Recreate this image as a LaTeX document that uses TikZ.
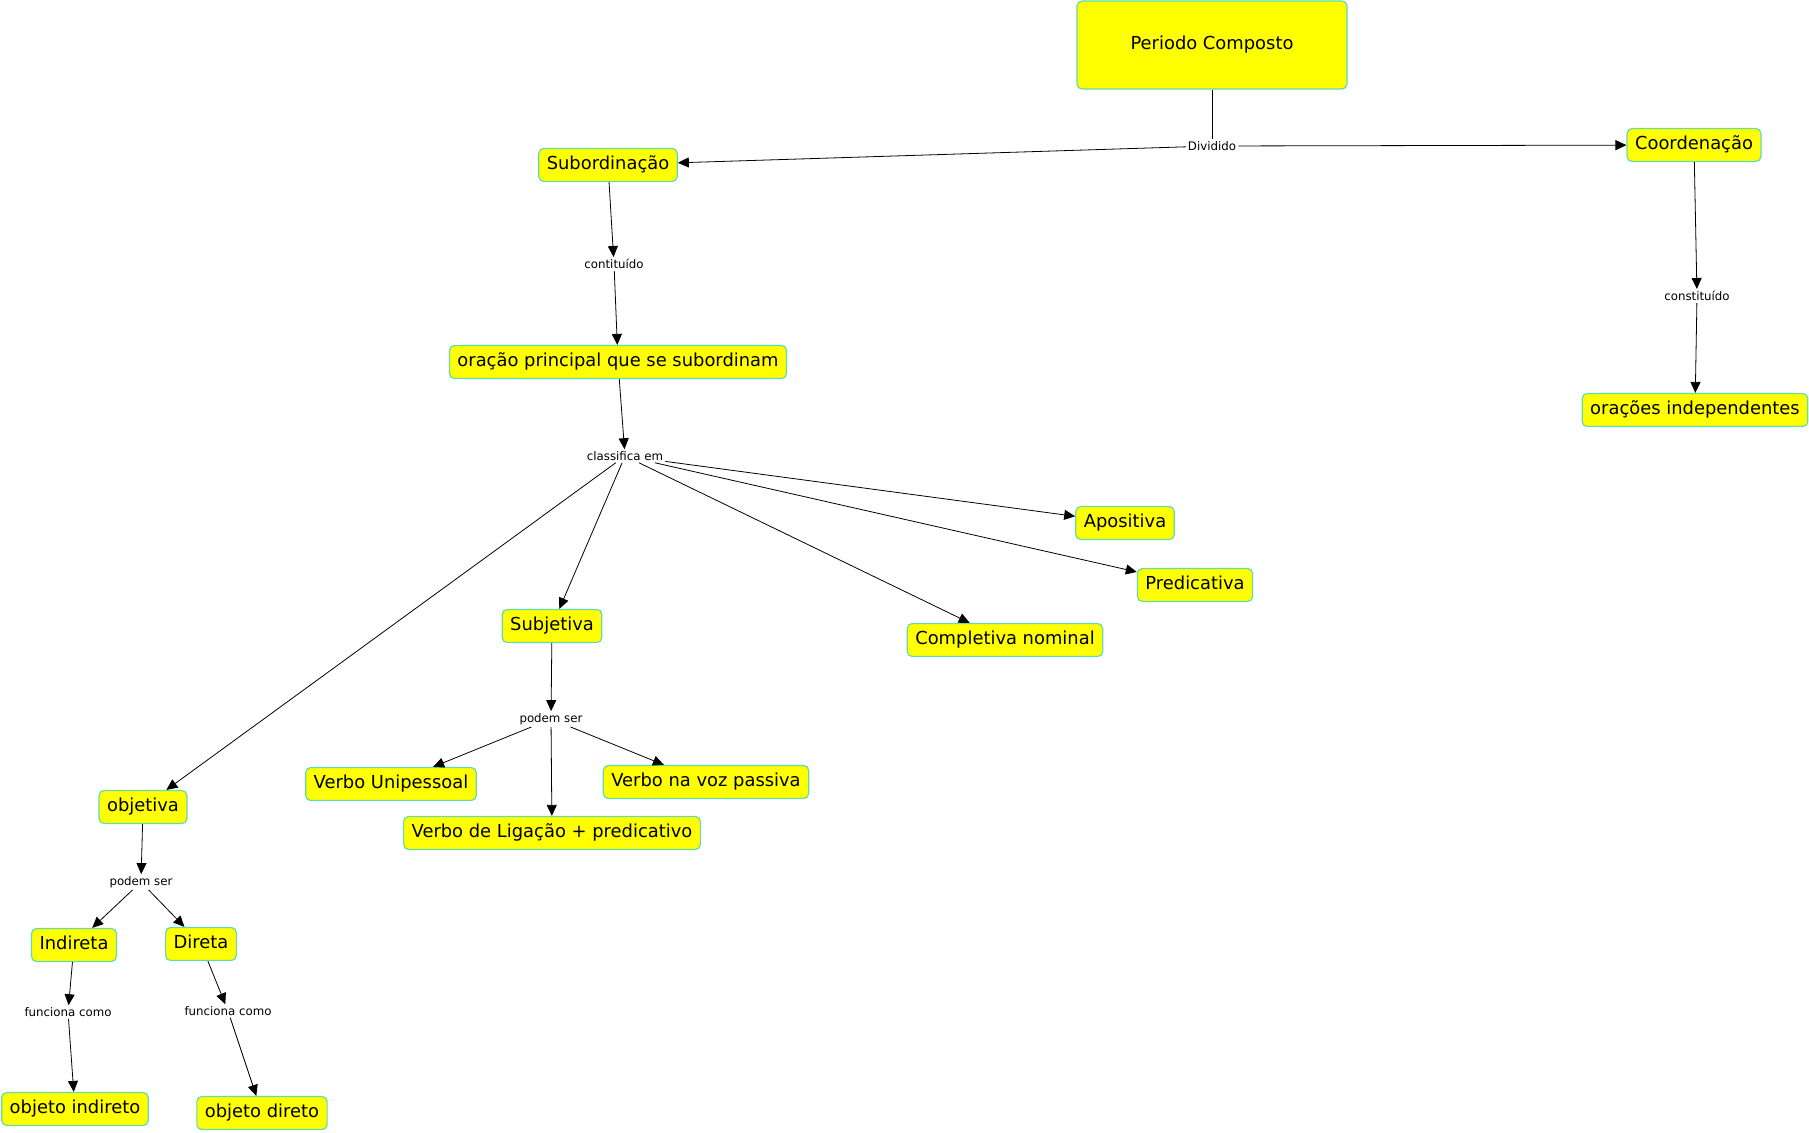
\documentclass[tikz,border=0pt]{standalone}
\usepackage{fontspec}
\setmainfont{DejaVu Sans}
\usetikzlibrary{arrows.meta}
\definecolor{boxborder}{RGB}{96,220,175}
\definecolor{boxfill}{RGB}{255,255,0}
\tikzset{
  concept/.style={draw=boxborder, line width=1.2pt, fill=boxfill, rounded corners=5pt,
    font=\fontsize{17.9}{21}\selectfont, inner xsep=8pt, inner ysep=0pt,
    minimum height=33pt, text height=13pt, text depth=3.5pt},
  linklabel/.style={font=\fontsize{11.8}{13}\selectfont, inner sep=2pt, fill=white},
  conn/.style={draw=black, line width=0.8pt},
  arr/.style={conn, -{Triangle[length=11pt,width=10pt]}}
}
\begin{document}
\begin{tikzpicture}[x=1pt,y=-1pt]
\useasboundingbox (0,0) rectangle (1809,1132);
% concepts
\node[concept, minimum width=270pt, minimum height=88pt] (pc) at (1212,45) {Periodo Composto};
\node[concept] (sub) at (608,165) {Subordinação};
\node[concept] (coord) at (1694,145) {Coordenação};
\node[concept] (princ) at (618,362) {oração principal que se subordinam};
\node[concept] (indep) at (1695,410) {orações independentes};
\node[concept] (apos) at (1125,523) {Apositiva};
\node[concept] (pred) at (1195,585) {Predicativa};
\node[concept] (compl) at (1005,640) {Completiva nominal};
\node[concept] (subj) at (552,626) {Subjetiva};
\node[concept] (unip) at (391,784) {Verbo Unipessoal};
\node[concept] (passiva) at (706,782) {Verbo na voz passiva};
\node[concept] (lig) at (552,833) {Verbo de Ligação + predicativo};
\node[concept] (obj) at (143,807) {objetiva};
\node[concept] (indir) at (74,945) {Indireta};
\node[concept] (dir) at (201,944) {Direta};
\node[concept] (oind) at (75,1109) {objeto indireto};
\node[concept] (odir) at (262,1113) {objeto direto};
% link labels
\node[linklabel] (div) at (1212,146) {Dividido};
\node[linklabel] (cont) at (614,264) {contituído};
\node[linklabel] (const) at (1697,296) {constituído};
\node[linklabel] (class) at (625,456) {classifica em};
\node[linklabel] (ps1) at (551,719) {podem ser};
\node[linklabel] (ps2) at (141,882) {podem ser};
\node[linklabel] (fc1) at (68,1012) {funciona como};
\node[linklabel] (fc2) at (228,1011) {funciona como};
% connectors
\draw[conn] (pc) -- (div);
\draw[arr] (div) -- (sub);
\draw[arr] (div) -- (coord);
\draw[arr] (sub) -- (cont);
\draw[arr] (cont) -- (princ);
\draw[arr] (coord) -- (const);
\draw[arr] (const) -- (indep);
\draw[arr] (princ) -- (class);
\draw[arr] (class) -- (apos);
\draw[arr] (class) -- (pred);
\draw[arr] (class) -- (compl);
\draw[arr] (class) -- (subj);
\draw[arr] (class) -- (obj);
\draw[arr] (subj) -- (ps1);
\draw[arr] (ps1) -- (unip);
\draw[arr] (ps1) -- (lig);
\draw[arr] (ps1) -- (passiva);
\draw[arr] (obj) -- (ps2);
\draw[arr] (ps2) -- (indir);
\draw[arr] (ps2) -- (dir);
\draw[arr] (indir) -- (fc1);
\draw[arr] (fc1) -- (oind);
\draw[arr] (dir) -- (fc2);
\draw[arr] (fc2) -- (odir);
\end{tikzpicture}
\end{document}
